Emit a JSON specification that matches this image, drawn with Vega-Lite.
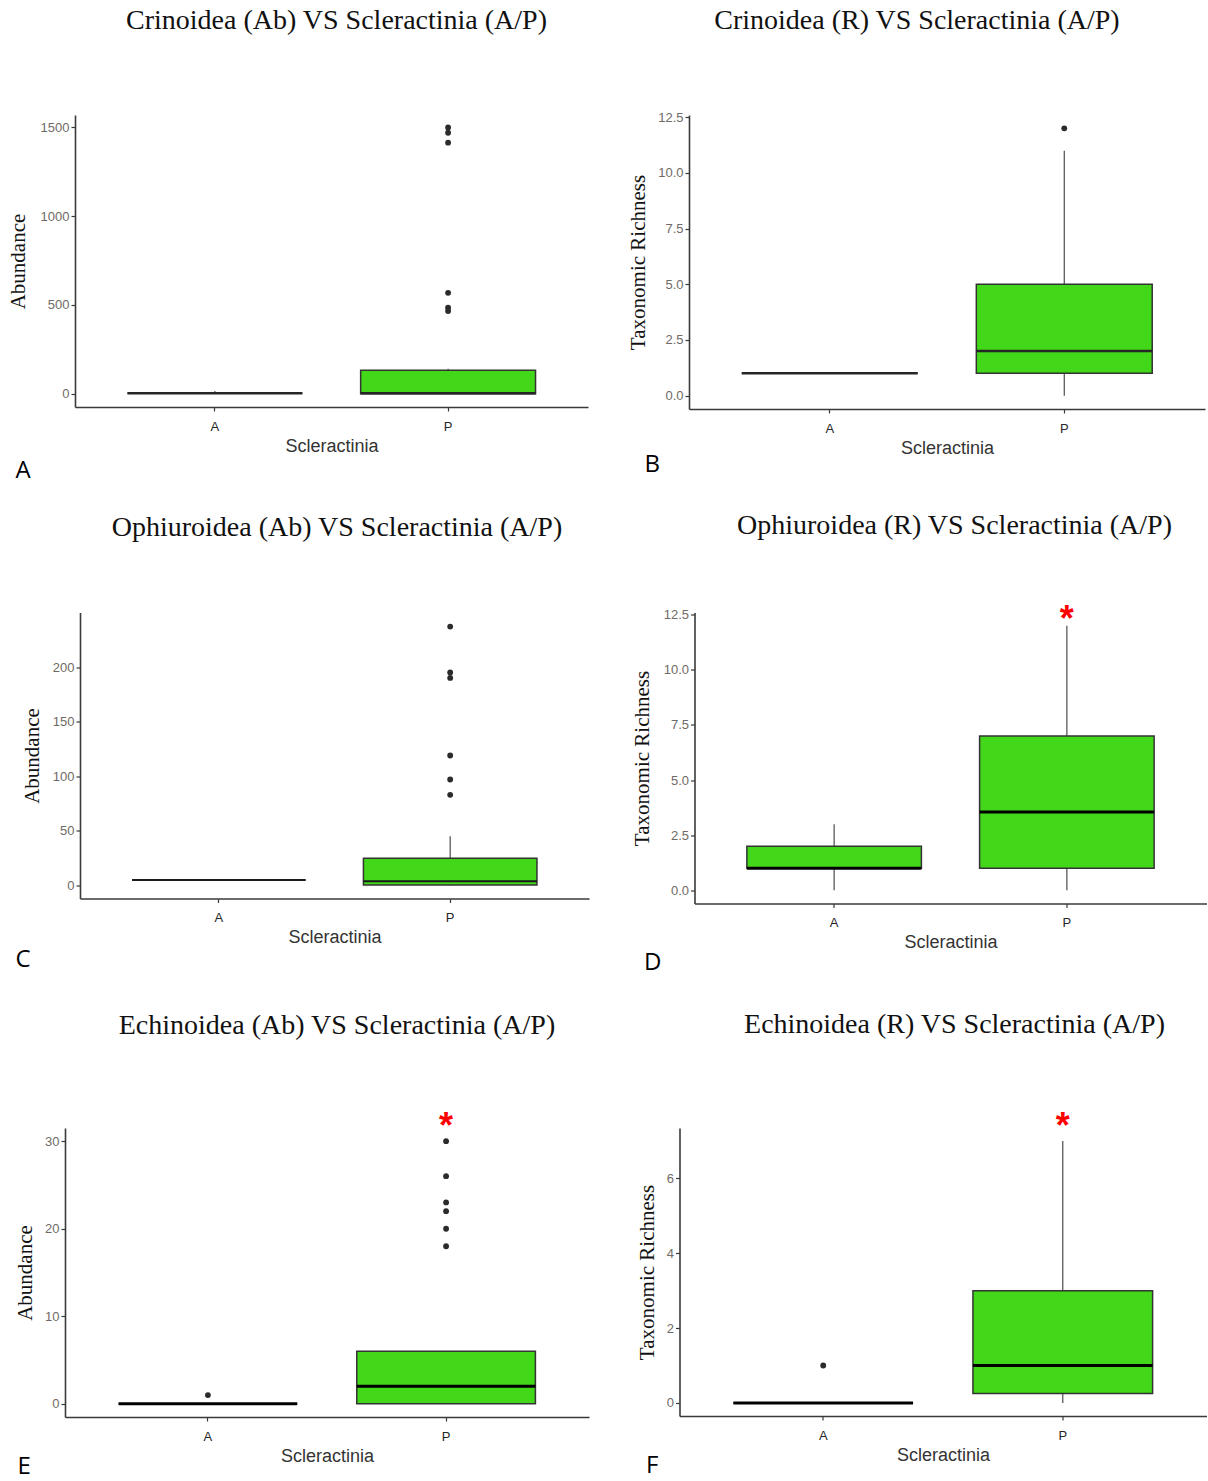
{
  "$schema": "https://vega.github.io/schema/vega-lite/v6.json",
  "background": "white",
  "padding": {"left": 0, "top": 7, "right": 0, "bottom": 0},
  "datasets": {
    "boxes": [
      {"panel": "A", "group": "A", "lo": 3, "q1": 3, "med": 3, "q3": 3, "hi": 15},
      {"panel": "A", "group": "P", "lo": 0, "q1": 0, "med": 2, "q3": 132, "hi": 141},
      {"panel": "B", "group": "A", "lo": 1, "q1": 1, "med": 1, "q3": 1, "hi": 1},
      {"panel": "B", "group": "P", "lo": 0, "q1": 1, "med": 2, "q3": 5, "hi": 11},
      {"panel": "C", "group": "A", "lo": 5, "q1": 5, "med": 5, "q3": 5, "hi": 5},
      {"panel": "C", "group": "P", "lo": 0, "q1": 0.5, "med": 4, "q3": 25, "hi": 45},
      {"panel": "D", "group": "A", "lo": 0, "q1": 1, "med": 1, "q3": 2, "hi": 3},
      {"panel": "D", "group": "P", "lo": 0, "q1": 1, "med": 3.55, "q3": 7, "hi": 12},
      {"panel": "E", "group": "A", "lo": 0, "q1": 0, "med": 0, "q3": 0, "hi": 0},
      {"panel": "E", "group": "P", "lo": 0, "q1": 0, "med": 2, "q3": 6, "hi": 6},
      {"panel": "F", "group": "A", "lo": 0, "q1": 0, "med": 0, "q3": 0, "hi": 0},
      {"panel": "F", "group": "P", "lo": 0, "q1": 0.25, "med": 1, "q3": 3, "hi": 7}
    ],
    "outliers": [
      {"panel": "A", "group": "P", "value": 1500},
      {"panel": "A", "group": "P", "value": 1470},
      {"panel": "A", "group": "P", "value": 1414},
      {"panel": "A", "group": "P", "value": 568},
      {"panel": "A", "group": "P", "value": 485},
      {"panel": "A", "group": "P", "value": 466},
      {"panel": "B", "group": "P", "value": 12},
      {"panel": "C", "group": "P", "value": 237},
      {"panel": "C", "group": "P", "value": 195},
      {"panel": "C", "group": "P", "value": 190},
      {"panel": "C", "group": "P", "value": 119},
      {"panel": "C", "group": "P", "value": 97},
      {"panel": "C", "group": "P", "value": 83},
      {"panel": "E", "group": "A", "value": 1},
      {"panel": "E", "group": "P", "value": 30},
      {"panel": "E", "group": "P", "value": 26},
      {"panel": "E", "group": "P", "value": 23},
      {"panel": "E", "group": "P", "value": 22},
      {"panel": "E", "group": "P", "value": 20},
      {"panel": "E", "group": "P", "value": 18},
      {"panel": "F", "group": "A", "value": 1}
    ],
    "stars": [
      {"panel": "D", "group": "P", "value": 12.62, "label": "*"},
      {"panel": "E", "group": "P", "value": 32.56, "label": "*"},
      {"panel": "F", "group": "P", "value": 7.59, "label": "*"}
    ]
  },
  "columns": 1,
  "spacing": 28.5,
  "concat": [
    {
      "spacing": 0,
      "hconcat": [
        {"width": 6.5, "height": 1, "data": {"values": []}, "mark": {"type": "point"}},
        {
          "spacing": 39,
          "hconcat": [
            {
              "title": {"text": "A", "orient": "bottom", "anchor": "start", "font": "Open Sans", "fontSize": 24, "fontWeight": "normal", "color": "#000000", "offset": 4, "dx": 8.5},
              "vconcat": [{
                "width": 513, "height": 292,
                "title": {"text": "Crinoidea (Ab) VS Scleractinia (A/P)", "frame": "group", "dx": 5, "offset": 80},
                "encoding": {"x": {"field": "group", "type": "nominal", "title": "Scleractinia", "scale": {"domain": ["A", "P"], "paddingInner": 0.25, "paddingOuter": 0.225}}},
                "layer": [
                  {"data": {"name": "boxes"}, "transform": [{"filter": "datum.panel === 'A'"}], "mark": {"type": "rule", "color": "#4d4d4d", "strokeWidth": 1.2},
                   "encoding": {"y": {"field": "lo", "type": "quantitative", "title": "Abundance", "scale": {"domain": [-75, 1570], "nice": false, "zero": false}, "axis": {"values": [0, 500, 1000, 1500], "format": "d", "titleX": -57}}, "y2": {"field": "hi"}}},
                  {"data": {"name": "boxes"}, "transform": [{"filter": "datum.panel === 'A'"}], "mark": {"type": "bar", "fill": "#42d718", "stroke": "#333333", "strokeWidth": 1.5},
                   "encoding": {"y": {"field": "q1", "type": "quantitative", "title": "Abundance"}, "y2": {"field": "q3"}}},
                  {"data": {"name": "boxes"}, "transform": [{"filter": "datum.panel === 'A'"}], "mark": {"type": "bar", "fillOpacity": 0, "stroke": "#262626", "strokeWidth": 2.5},
                   "encoding": {"y": {"field": "med", "type": "quantitative", "title": "Abundance"}, "y2": {"field": "med"}}},
                  {"data": {"name": "outliers"}, "transform": [{"filter": "datum.panel === 'A'"}], "mark": {"type": "circle", "size": 34, "color": "#2b2b2b", "opacity": 1},
                   "encoding": {"y": {"field": "value", "type": "quantitative", "title": "Abundance"}}}
                ]
              }]
            },
            {
              "title": {"text": "B", "orient": "bottom", "anchor": "start", "font": "Open Sans", "fontSize": 24, "fontWeight": "normal", "color": "#000000", "offset": -4.5, "dx": 17},
              "vconcat": [{
                "width": 516, "height": 294,
                "title": {"text": "Crinoidea (R) VS Scleractinia (A/P)", "frame": "group", "dx": -30, "offset": 76},
                "encoding": {"x": {"field": "group", "type": "nominal", "title": "Scleractinia", "scale": {"domain": ["A", "P"], "paddingInner": 0.25, "paddingOuter": 0.225}}},
                "layer": [
                  {"data": {"name": "boxes"}, "transform": [{"filter": "datum.panel === 'B'"}], "mark": {"type": "rule", "color": "#4d4d4d", "strokeWidth": 1.2},
                   "encoding": {"y": {"field": "lo", "type": "quantitative", "title": "Taxonomic Richness", "scale": {"domain": [-0.6, 12.6], "nice": false, "zero": false}, "axis": {"values": [0, 2.5, 5, 7.5, 10, 12.5], "format": ".1f", "titleX": -50.5}}, "y2": {"field": "hi"}}},
                  {"data": {"name": "boxes"}, "transform": [{"filter": "datum.panel === 'B'"}], "mark": {"type": "bar", "fill": "#42d718", "stroke": "#333333", "strokeWidth": 1.5},
                   "encoding": {"y": {"field": "q1", "type": "quantitative", "title": "Taxonomic Richness"}, "y2": {"field": "q3"}}},
                  {"data": {"name": "boxes"}, "transform": [{"filter": "datum.panel === 'B'"}], "mark": {"type": "bar", "fillOpacity": 0, "stroke": "#262626", "strokeWidth": 2.5},
                   "encoding": {"y": {"field": "med", "type": "quantitative", "title": "Taxonomic Richness"}, "y2": {"field": "med"}}},
                  {"data": {"name": "outliers"}, "transform": [{"filter": "datum.panel === 'B'"}], "mark": {"type": "circle", "size": 34, "color": "#2b2b2b", "opacity": 1},
                   "encoding": {"y": {"field": "value", "type": "quantitative", "title": "Taxonomic Richness"}}}
                ]
              }]
            }
          ]
        }
      ]
    },
    {
      "columns": 1,
      "spacing": 36.5,
      "concat": [
        {
          "spacing": 0,
          "hconcat": [
            {"width": 15, "height": 1, "data": {"values": []}, "mark": {"type": "point"}},
            {
              "spacing": 42.5,
              "hconcat": [
                {
                  "title": {"text": "C", "orient": "bottom", "anchor": "start", "font": "Open Sans", "fontSize": 24, "fontWeight": "normal", "color": "#000000", "offset": 1, "dx": -5.5},
                  "vconcat": [{
                    "width": 509, "height": 286,
                    "title": {"text": "Ophiuroidea (Ab) VS Scleractinia (A/P)", "frame": "group", "dx": 2.5, "offset": 70.5},
                    "encoding": {"x": {"field": "group", "type": "nominal", "title": "Scleractinia", "scale": {"domain": ["A", "P"], "paddingInner": 0.25, "paddingOuter": 0.225}}},
                    "layer": [
                      {"data": {"name": "boxes"}, "transform": [{"filter": "datum.panel === 'C'"}], "mark": {"type": "rule", "color": "#4d4d4d", "strokeWidth": 1.2},
                       "encoding": {"y": {"field": "lo", "type": "quantitative", "title": "Abundance", "scale": {"domain": [-11.9, 249.9], "nice": false, "zero": false}, "axis": {"values": [0, 50, 100, 150, 200], "titleX": -48}}, "y2": {"field": "hi"}}},
                      {"data": {"name": "boxes"}, "transform": [{"filter": "datum.panel === 'C'"}], "mark": {"type": "bar", "fill": "#42d718", "stroke": "#333333", "strokeWidth": 1.5},
                       "encoding": {"y": {"field": "q1", "type": "quantitative", "title": "Abundance"}, "y2": {"field": "q3"}}},
                      {"data": {"name": "boxes"}, "transform": [{"filter": "datum.panel === 'C'"}], "mark": {"type": "bar", "fillOpacity": 0, "stroke": "#1a1a1a", "strokeWidth": 2},
                       "encoding": {"y": {"field": "med", "type": "quantitative", "title": "Abundance"}, "y2": {"field": "med"}}},
                      {"data": {"name": "outliers"}, "transform": [{"filter": "datum.panel === 'C'"}], "mark": {"type": "circle", "size": 34, "color": "#2b2b2b", "opacity": 1},
                       "encoding": {"y": {"field": "value", "type": "quantitative", "title": "Abundance"}}}
                    ]
                  }]
                },
                {
                  "title": {"text": "D", "orient": "bottom", "anchor": "start", "font": "Open Sans", "fontSize": 24, "fontWeight": "normal", "color": "#000000", "offset": -1, "dx": 12.5},
                  "vconcat": [{
                    "width": 512, "height": 291,
                    "title": {"text": "Ophiuroidea (R) VS Scleractinia (A/P)", "frame": "group", "dx": 4, "offset": 62.5},
                    "encoding": {"x": {"field": "group", "type": "nominal", "title": "Scleractinia", "scale": {"domain": ["A", "P"], "paddingInner": 0.25, "paddingOuter": 0.225}}},
                    "layer": [
                      {"data": {"name": "boxes"}, "transform": [{"filter": "datum.panel === 'D'"}], "mark": {"type": "rule", "color": "#4d4d4d", "strokeWidth": 1.2},
                       "encoding": {"y": {"field": "lo", "type": "quantitative", "title": "Taxonomic Richness", "scale": {"domain": [-0.6, 12.6], "nice": false, "zero": false}, "axis": {"values": [0, 2.5, 5, 7.5, 10, 12.5], "format": ".1f", "titleX": -52}}, "y2": {"field": "hi"}}},
                      {"data": {"name": "boxes"}, "transform": [{"filter": "datum.panel === 'D'"}], "mark": {"type": "bar", "fill": "#42d718", "stroke": "#333333", "strokeWidth": 1.5},
                       "encoding": {"y": {"field": "q1", "type": "quantitative", "title": "Taxonomic Richness"}, "y2": {"field": "q3"}}},
                      {"data": {"name": "boxes"}, "transform": [{"filter": "datum.panel === 'D'"}], "mark": {"type": "bar", "fillOpacity": 0, "stroke": "#000000", "strokeWidth": 3},
                       "encoding": {"y": {"field": "med", "type": "quantitative", "title": "Taxonomic Richness"}, "y2": {"field": "med"}}},
                      {"data": {"name": "stars"}, "transform": [{"filter": "datum.panel === 'D'"}], "mark": {"type": "text", "font": "Liberation Sans", "fontSize": 36, "fontWeight": "bold", "color": "#ff0000", "baseline": "middle", "dy": 8},
                       "encoding": {"y": {"field": "value", "type": "quantitative", "title": "Taxonomic Richness"}, "text": {"field": "label"}}}
                    ]
                  }]
                }
              ]
            }
          ]
        },
        {
          "spacing": 0,
          "hconcat": [
            {"width": 14, "height": 1, "data": {"values": []}, "mark": {"type": "point"}},
            {
              "spacing": 47.5,
              "hconcat": [
                {
                  "title": {"text": "E", "orient": "bottom", "anchor": "start", "font": "Open Sans", "fontSize": 24, "fontWeight": "normal", "color": "#000000", "offset": -10, "dx": 3},
                  "vconcat": [{
                    "width": 524, "height": 289,
                    "title": {"text": "Echinoidea (Ab) VS Scleractinia (A/P)", "frame": "group", "dx": 10, "offset": 69},
                    "encoding": {"x": {"field": "group", "type": "nominal", "title": "Scleractinia", "scale": {"domain": ["A", "P"], "paddingInner": 0.25, "paddingOuter": 0.225}}},
                    "layer": [
                      {"data": {"name": "boxes"}, "transform": [{"filter": "datum.panel === 'E'"}], "mark": {"type": "rule", "color": "#4d4d4d", "strokeWidth": 1.2},
                       "encoding": {"y": {"field": "lo", "type": "quantitative", "title": "Abundance", "scale": {"domain": [-1.5, 31.5], "nice": false, "zero": false}, "axis": {"values": [0, 10, 20, 30], "titleX": -39.5}}, "y2": {"field": "hi"}}},
                      {"data": {"name": "boxes"}, "transform": [{"filter": "datum.panel === 'E'"}], "mark": {"type": "bar", "fill": "#42d718", "stroke": "#333333", "strokeWidth": 1.5},
                       "encoding": {"y": {"field": "q1", "type": "quantitative", "title": "Abundance"}, "y2": {"field": "q3"}}},
                      {"data": {"name": "boxes"}, "transform": [{"filter": "datum.panel === 'E'"}], "mark": {"type": "bar", "fillOpacity": 0, "stroke": "#000000", "strokeWidth": 3},
                       "encoding": {"y": {"field": "med", "type": "quantitative", "title": "Abundance"}, "y2": {"field": "med"}}},
                      {"data": {"name": "outliers"}, "transform": [{"filter": "datum.panel === 'E'"}], "mark": {"type": "circle", "size": 34, "color": "#2b2b2b", "opacity": 1},
                       "encoding": {"y": {"field": "value", "type": "quantitative", "title": "Abundance"}}},
                      {"data": {"name": "stars"}, "transform": [{"filter": "datum.panel === 'E'"}], "mark": {"type": "text", "font": "Liberation Sans", "fontSize": 36, "fontWeight": "bold", "color": "#ff0000", "baseline": "middle", "dy": 8},
                       "encoding": {"y": {"field": "value", "type": "quantitative", "title": "Abundance"}, "text": {"field": "label"}}}
                    ]
                  }]
                },
                {
                  "title": {"text": "F", "orient": "bottom", "anchor": "start", "font": "Open Sans", "fontSize": 24, "fontWeight": "normal", "color": "#000000", "offset": -10, "dx": 9.5},
                  "vconcat": [{
                    "width": 527, "height": 288,
                    "title": {"text": "Echinoidea (R) VS Scleractinia (A/P)", "frame": "group", "dx": 11.5, "offset": 70},
                    "encoding": {"x": {"field": "group", "type": "nominal", "title": "Scleractinia", "scale": {"domain": ["A", "P"], "paddingInner": 0.25, "paddingOuter": 0.225}}},
                    "layer": [
                      {"data": {"name": "boxes"}, "transform": [{"filter": "datum.panel === 'F'"}], "mark": {"type": "rule", "color": "#4d4d4d", "strokeWidth": 1.2},
                       "encoding": {"y": {"field": "lo", "type": "quantitative", "title": "Taxonomic Richness", "scale": {"domain": [-0.35, 7.35], "nice": false, "zero": false}, "axis": {"values": [0, 2, 4, 6], "titleX": -32}}, "y2": {"field": "hi"}}},
                      {"data": {"name": "boxes"}, "transform": [{"filter": "datum.panel === 'F'"}], "mark": {"type": "bar", "fill": "#42d718", "stroke": "#333333", "strokeWidth": 1.5},
                       "encoding": {"y": {"field": "q1", "type": "quantitative", "title": "Taxonomic Richness"}, "y2": {"field": "q3"}}},
                      {"data": {"name": "boxes"}, "transform": [{"filter": "datum.panel === 'F'"}], "mark": {"type": "bar", "fillOpacity": 0, "stroke": "#000000", "strokeWidth": 3},
                       "encoding": {"y": {"field": "med", "type": "quantitative", "title": "Taxonomic Richness"}, "y2": {"field": "med"}}},
                      {"data": {"name": "outliers"}, "transform": [{"filter": "datum.panel === 'F'"}], "mark": {"type": "circle", "size": 34, "color": "#2b2b2b", "opacity": 1},
                       "encoding": {"y": {"field": "value", "type": "quantitative", "title": "Taxonomic Richness"}}},
                      {"data": {"name": "stars"}, "transform": [{"filter": "datum.panel === 'F'"}], "mark": {"type": "text", "font": "Liberation Sans", "fontSize": 36, "fontWeight": "bold", "color": "#ff0000", "baseline": "middle", "dy": 8},
                       "encoding": {"y": {"field": "value", "type": "quantitative", "title": "Taxonomic Richness"}, "text": {"field": "label"}}}
                    ]
                  }]
                }
              ]
            }
          ]
        }
      ]
    }
  ],
  "config": {
    "view": {"stroke": null},
    "axis": {"grid": false, "domainColor": "#3a3a3a", "domainWidth": 1.6, "tickColor": "#3a3a3a", "tickWidth": 1.2, "tickSize": 4},
    "axisX": {"labelFont": "Liberation Sans", "labelFontSize": 13, "labelColor": "#262626", "labelAngle": 0, "labelPadding": 9, "titleFont": "Liberation Sans", "titleFontSize": 18, "titleFontWeight": "normal", "titleColor": "#333333", "titlePadding": 4},
    "axisY": {"labelFont": "Liberation Sans", "labelFontSize": 13, "labelColor": "#6f6a65", "labelPadding": 2, "titleFont": "Liberation Serif", "titleFontSize": 21, "titleFontWeight": "normal", "titleColor": "#111111", "titleBaseline": "middle"},
    "title": {"font": "Liberation Serif", "fontSize": 28, "fontWeight": "normal", "color": "#111111"}
  }
}
